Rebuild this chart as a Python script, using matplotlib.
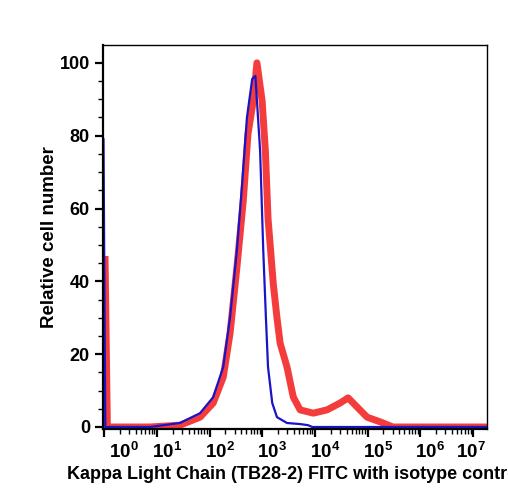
import numpy as np
import matplotlib
matplotlib.use("Agg")
import matplotlib.pyplot as plt
import matplotlib.transforms as mtransforms
from matplotlib.ticker import LogLocator, MultipleLocator

plt.rcParams['font.family'] = ['Liberation Sans', 'DejaVu Sans']
plt.rcParams['font.weight'] = 'bold'
plt.rcParams['mathtext.fontset'] = 'custom'
plt.rcParams['mathtext.rm'] = 'Liberation Sans:bold'
plt.rcParams['mathtext.default'] = 'rm'

# isotype control (blue) and Kappa light chain stain (red)
blue_x = [0.97, 1.05, 7.4, 27.5, 66.1, 117.5, 182, 245.5, 331, 417, 513, 646,
          741, 794, 912, 1047, 1175, 1288, 1549, 1905, 2951, 5248, 7413, 8913,
          18620871]
blue_y = [79, 0, 0, 1.1, 3.8, 8.2, 16.5, 30.2, 48.6, 67, 85, 95.6,
          96.4, 89.6, 75.8, 48.4, 30, 16.5, 6.6, 2.7, 1.1, 0.8, 0.5, 0,
          0]

red_x = [1.04, 1.15, 7.4, 27.5, 66.1, 117.5, 182, 245.5, 331, 436.5, 537, 676,
         794, 995, 1148, 1288, 1622, 1905, 2188, 2951, 3890, 5248, 9333, 16982,
         30200, 42658, 63096, 97724, 173780, 301995, 18620871]
red_y = [46, 0, 0, 0.5, 2.7, 6.6, 13.7, 25.8, 43.9, 62.1, 80.5, 89.6,
         100, 89.6, 75.8, 57.4, 39.3, 30, 23, 16.5, 8.2, 4.7, 3.8, 4.7,
         6.6, 8, 5.5, 2.7, 1.4, 0, 0]

xticks = [1, 10, 100, 1e3, 1e4, 1e5, 1e6, 1e7]
xtick_labels = ['$10^{0}$', '$10^{1}$', '$10^{2}$', '$10^{3}$',
                '$10^{4}$', '$10^{5}$', '$10^{6}$', '$10^{7}$']

fig = plt.figure(figsize=(5.08, 5.00), dpi=100)
ax = fig.add_axes([0.203, 0.142, 0.756, 0.768])

ax.plot(red_x, red_y, color='#f43c3c', lw=5, solid_joinstyle='round')
ax.plot(blue_x, blue_y, color='#1a14c8', lw=1.6)

ax.set_xscale('log')
ax.set_xlim(10 ** -0.02, 10 ** 7.27)
ax.set_ylim(-0.55, 104.9)

ax.set_xticks(xticks)
ax.set_xticklabels(xtick_labels)
ax.xaxis.set_minor_locator(LogLocator(base=10, subs=np.arange(2, 10), numticks=12))
ax.yaxis.set_major_locator(MultipleLocator(20))
ax.yaxis.set_minor_locator(MultipleLocator(5))

for side in ['left', 'bottom']:
    ax.spines[side].set_linewidth(1.6)
for side in ['top', 'right']:
    ax.spines[side].set_linewidth(1.0)

ax.tick_params(axis='both', which='major', direction='out', length=6, width=1.6)
ax.tick_params(axis='y', which='major', labelsize=13)
ax.tick_params(axis='x', which='major', labelsize=13.5, pad=3)
ax.tick_params(axis='both', which='minor', direction='out', length=3.5, width=1.0)

# nudge the decade labels like the original software does
shifts = [20, 10, 10, 10, 10, 10, 10, -2]
for lab, dx in zip(ax.get_xticklabels(), shifts):
    lab.set_transform(lab.get_transform() +
                      mtransforms.ScaledTranslation(dx / 100, 0, fig.dpi_scale_trans))

ax.set_xlabel('Kappa Light Chain (TB28-2) FITC with isotype control',
              fontsize=13, fontweight='bold', labelpad=3)
ax.set_ylabel('Relative cell number', fontsize=13.5, fontweight='bold', labelpad=1)

fig.savefig('out.png', dpi=100)
